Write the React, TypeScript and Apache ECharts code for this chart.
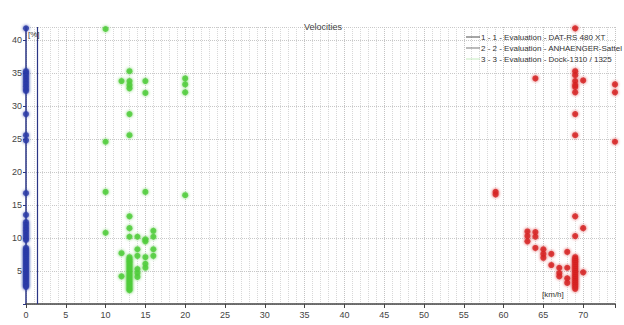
import React, { useEffect, useRef } from "react";
import * as echarts from "echarts";

const chartTitle = "Velocities";
const xTickValues = [0, 5, 10, 15, 20, 25, 30, 35, 40, 45, 50, 55, 60, 65, 70];
const legendNames = [
  "1 - 1 - Evaluation - DAT-RS 480 XT",
  "2 - 2 - Evaluation - ANHAENGER-Sattel",
  "3 - 3 - Evaluation - Dock-1310 / 1325",
];

// series 1 (blue) - all at x = 0
const blueY = [
  41.8, 35.3, 35.0, 34.6, 34.2, 33.8, 33.4, 33.0, 32.6, 32.3, 28.8, 25.6, 24.8,
  16.8, 13.5, 12.4, 12.0, 11.6, 11.2, 10.8, 10.4, 10.0, 9.7, 8.5, 8.2, 7.9, 7.6,
  7.3, 7.0, 6.7, 6.4, 6.1, 5.8, 5.5, 5.2, 4.9, 4.6, 4.3, 4.0, 3.7, 3.4, 3.1, 2.8, 2.6,
];

// series 2 (green)
const greenPoints = [
  [10, 41.7], [13, 35.3], [12, 33.8], [13, 33.8], [13, 33.2], [13, 32.7], [15, 33.8], [15, 32.0],
  [20, 34.2], [20, 33.3], [20, 32.1], [13, 28.8], [13, 25.6], [10, 24.6],
  [10, 17.0], [15, 17.0], [20, 16.5], [13, 13.3], [13, 11.5], [13, 10.2], [10, 10.8], [14, 10.2],
  [15, 9.8], [15, 9.5], [16, 11.1], [16, 10.2], [12, 7.7], [14, 8.3], [14, 7.3], [16, 8.3], [16, 7.3],
  [15, 7.1], [15, 6.1], [15, 5.5], [12, 4.2], [14, 5.3], [14, 4.7], [14, 4.1],
];
const greenColumn13 = [7.1, 6.8, 6.5, 6.2, 5.9, 5.6, 5.3, 5.0, 4.7, 4.4, 4.1, 3.8, 3.5, 3.2, 2.9, 2.6, 2.3, 2.1];

// series 3 (red)
const redPoints = [
  [69, 41.8], [64, 34.2], [69, 35.3], [69, 34.7], [69, 33.8], [69, 33.2], [69, 32.9], [69, 32.1],
  [70, 33.9], [74, 33.3], [74, 32.1], [69, 28.8], [69, 25.6], [74, 24.6],
  [59, 17.0], [59, 16.6], [69, 13.3], [70, 11.5], [69, 10.3], [63, 11.0], [63, 10.3], [63, 9.5],
  [64, 10.9], [64, 10.2], [64, 8.5], [65, 8.3], [65, 7.6], [65, 7.0], [66, 7.6], [66, 5.9],
  [67, 5.5], [67, 4.7], [67, 4.2], [68, 7.9], [68, 5.5], [68, 3.9], [68, 3.2], [70, 4.8],
];
const redColumn69 = [7.1, 6.8, 6.5, 6.2, 5.9, 5.6, 5.3, 5.0, 4.7, 4.4, 4.1, 3.8, 3.5, 3.2, 2.9, 2.6, 2.3];

const verticalMarkerX = 1.4;

export default function App() {
  const ref = useRef<HTMLDivElement>(null);
  useEffect(() => {
    if (!ref.current) return;
    const chart = echarts.init(ref.current, null, { renderer: "svg" });
    const font = "Liberation Sans, Arial, sans-serif";
    const blue = "#2b3aa6";
    const green = "#4fcc3a";
    const red = "#d62222";
    const dot = (c: string) => ({
      color: c,
      shadowBlur: 3,
      shadowColor: c,
    });
    chart.setOption({
      animation: false,
      backgroundColor: "#ffffff",
      textStyle: { fontFamily: font },
      title: {
        text: chartTitle,
        left: 318,
        top: 17,
        textAlign: "center",
        textStyle: { fontSize: 9, fontWeight: "normal", color: "#444", fontFamily: font },
      },
      legend: {
        orient: "vertical",
        left: 461,
        top: 28,
        itemGap: 3,
        itemWidth: 14,
        itemHeight: 1,
        icon: "rect",
        textStyle: { fontSize: 8, color: "#333", fontFamily: font, padding: [0, 0, 0, -4] },
        data: [
          { name: legendNames[0], itemStyle: { color: "#222", shadowBlur: 0 } },
          { name: legendNames[1], itemStyle: { color: "#555", shadowBlur: 0 } },
          { name: legendNames[2], itemStyle: { color: "#b8e6b0", shadowBlur: 0 } },
        ],
      },
      grid: { left: 26, right: 9, top: 27, bottom: 21, containLabel: false },
      xAxis: {
        type: "value",
        min: 0,
        max: 74,
        interval: 5,
        axisLine: { show: true, lineStyle: { color: "#444", width: 1.5 } },
        axisTick: { show: true, length: 4, inside: false, lineStyle: { color: "#444" } },
        axisLabel: {
          fontSize: 9,
          color: "#444",
          margin: 6,
          formatter: (v: number) => (xTickValues.includes(v) ? String(v) : ""),
        },
        splitLine: { show: true, lineStyle: { color: "#c4c4c4", type: "dotted", width: 1 } },
        minorTick: { show: false, splitNumber: 5 },
        minorSplitLine: { show: true, lineStyle: { color: "#d8d8d8", type: "dotted", width: 1 } },
      },
      yAxis: {
        type: "value",
        min: 0,
        max: 42,
        interval: 5,
        axisLine: { show: true, onZero: false, lineStyle: { color: "#2a3585", width: 1.5 } },
        axisTick: { show: true, length: 3, lineStyle: { color: "#2a3585" } },
        axisLabel: {
          fontSize: 9,
          color: "#444",
          margin: 4,
          showMaxLabel: false,
          formatter: (v: number) => (v === 0 || v % 5 !== 0 ? "" : String(v)),
        },
        splitLine: { show: true, lineStyle: { color: "#c8c8c8", type: "dotted", width: 1 } },
      },
      graphic: [
        {
          type: "text",
          left: 28,
          top: 30,
          z: 10,
          style: { text: "[%]", fontSize: 8, fill: "#333333", fontFamily: font },
        },
        {
          type: "text",
          left: 542,
          top: 290,
          z: 10,
          style: { text: "[km/h]", fontSize: 8, fill: "#333333", fontFamily: font },
        },
      ],
      series: [
        {
          name: legendNames[0],
          type: "scatter",
          symbolSize: 6,
          itemStyle: dot(blue),
          data: blueY.map((y) => [0, y]),
          markLine: {
            silent: true,
            symbol: ["none", "none"],
            label: { show: false },
            lineStyle: { color: "#2a3585", type: "solid", width: 1.2 },
            data: [{ xAxis: verticalMarkerX }],
          },
          z: 3,
        },
        {
          name: legendNames[1],
          type: "scatter",
          symbolSize: 6,
          itemStyle: dot(green),
          data: [...greenPoints, ...greenColumn13.map((y) => [13, y])],
          z: 3,
        },
        {
          name: legendNames[2],
          type: "scatter",
          symbolSize: 6,
          itemStyle: dot(red),
          data: [...redPoints, ...redColumn69.map((y) => [69, y])],
          z: 3,
        },
      ],
    });
    return () => chart.dispose();
  }, []);
  return (
    <div
      ref={ref}
      style={{ position: "fixed", left: 0, top: 0, width: 624, height: 325 }}
    />
  );
}
